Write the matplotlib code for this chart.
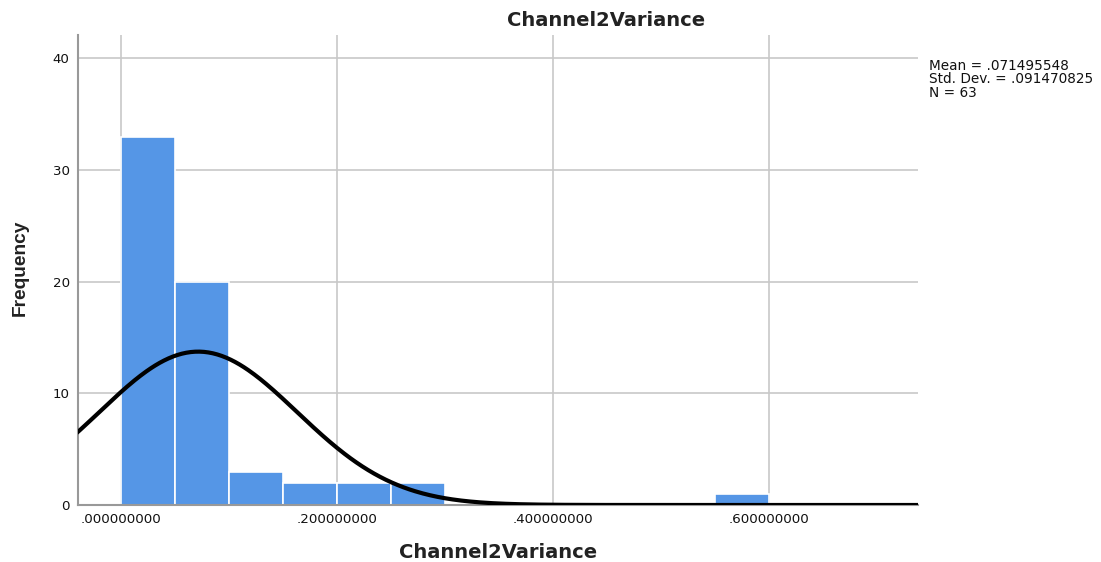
import numpy as np
import matplotlib
matplotlib.use("Agg")
import matplotlib.pyplot as plt

plt.rcParams['font.family'] = ['DejaVu Sans']

# Histogram bins (width .05) and counts
bin_edges = [0.00, 0.05, 0.10, 0.15, 0.20, 0.25, 0.30, 0.35, 0.40, 0.45, 0.50, 0.55, 0.60]
counts = [33, 20, 3, 2, 2, 2, 0, 0, 0, 0, 0, 1]
mean = 0.071495548
std = 0.091470825
n = 63
x_ticks = [0.0, 0.2, 0.4, 0.6]
x_tick_labels = ['.000000000', '.200000000', '.400000000', '.600000000']
y_ticks = [0, 10, 20, 30, 40]

W, H = 1101, 562
fig = plt.figure(figsize=(W / 100, H / 100), dpi=100)
ax = fig.add_axes([78 / W, (H - 505) / H, 840 / W, 470 / H])

grid_col = '#c8c8c8'
ax.set_axisbelow(True)
ax.grid(True, color=grid_col, linewidth=1.2)

widths = np.diff(bin_edges)
ax.bar(bin_edges[:-1], counts, width=widths, align='edge',
       color='#5596e6', edgecolor='white', linewidth=1.2, zorder=2)

# Fitted normal curve scaled to counts
xs = np.linspace(-0.06, 0.76, 600)
bw = bin_edges[1] - bin_edges[0]
ys = n * bw / (std * np.sqrt(2 * np.pi)) * np.exp(-0.5 * ((xs - mean) / std) ** 2)
ax.plot(xs, ys, color='black', linewidth=3, zorder=3, solid_capstyle='butt')

ax.set_xlim(-0.0398, 0.738)
ax.set_ylim(0, 42.1)
ax.set_xticks(x_ticks)
ax.set_xticklabels(x_tick_labels)
ax.set_yticks(y_ticks)
ax.tick_params(length=0, labelsize=9.6, colors='#111111')
ax.tick_params(axis='x', pad=6)
ax.tick_params(axis='y', pad=6)

for s in ['top', 'right']:
    ax.spines[s].set_visible(False)
for s in ['left', 'bottom']:
    ax.spines[s].set_color('#999999')
    ax.spines[s].set_linewidth(1.5)

fig.text(606 / W, 1 - 20 / H, 'Channel2Variance', ha='center', va='center',
         fontsize=14, fontweight='bold', color='#222222')
fig.text(498 / W, 1 - 552 / H, 'Channel2Variance', ha='center', va='center',
         fontsize=14, fontweight='bold', color='#222222')
fig.text(20 / W, 1 - 268 / H, 'Frequency', ha='center', va='center',
         rotation=90, fontsize=13.8, fontweight='bold', color='#222222',
         family=['Liberation Sans', 'DejaVu Sans'])
fig.text(929 / W, 1 - 59 / H,
         'Mean = .071495548\nStd. Dev. = .091470825\nN = 63',
         ha='left', va='top', fontsize=9.8, color='#111111', linespacing=0.95)

fig.savefig('out.png', dpi=100)
